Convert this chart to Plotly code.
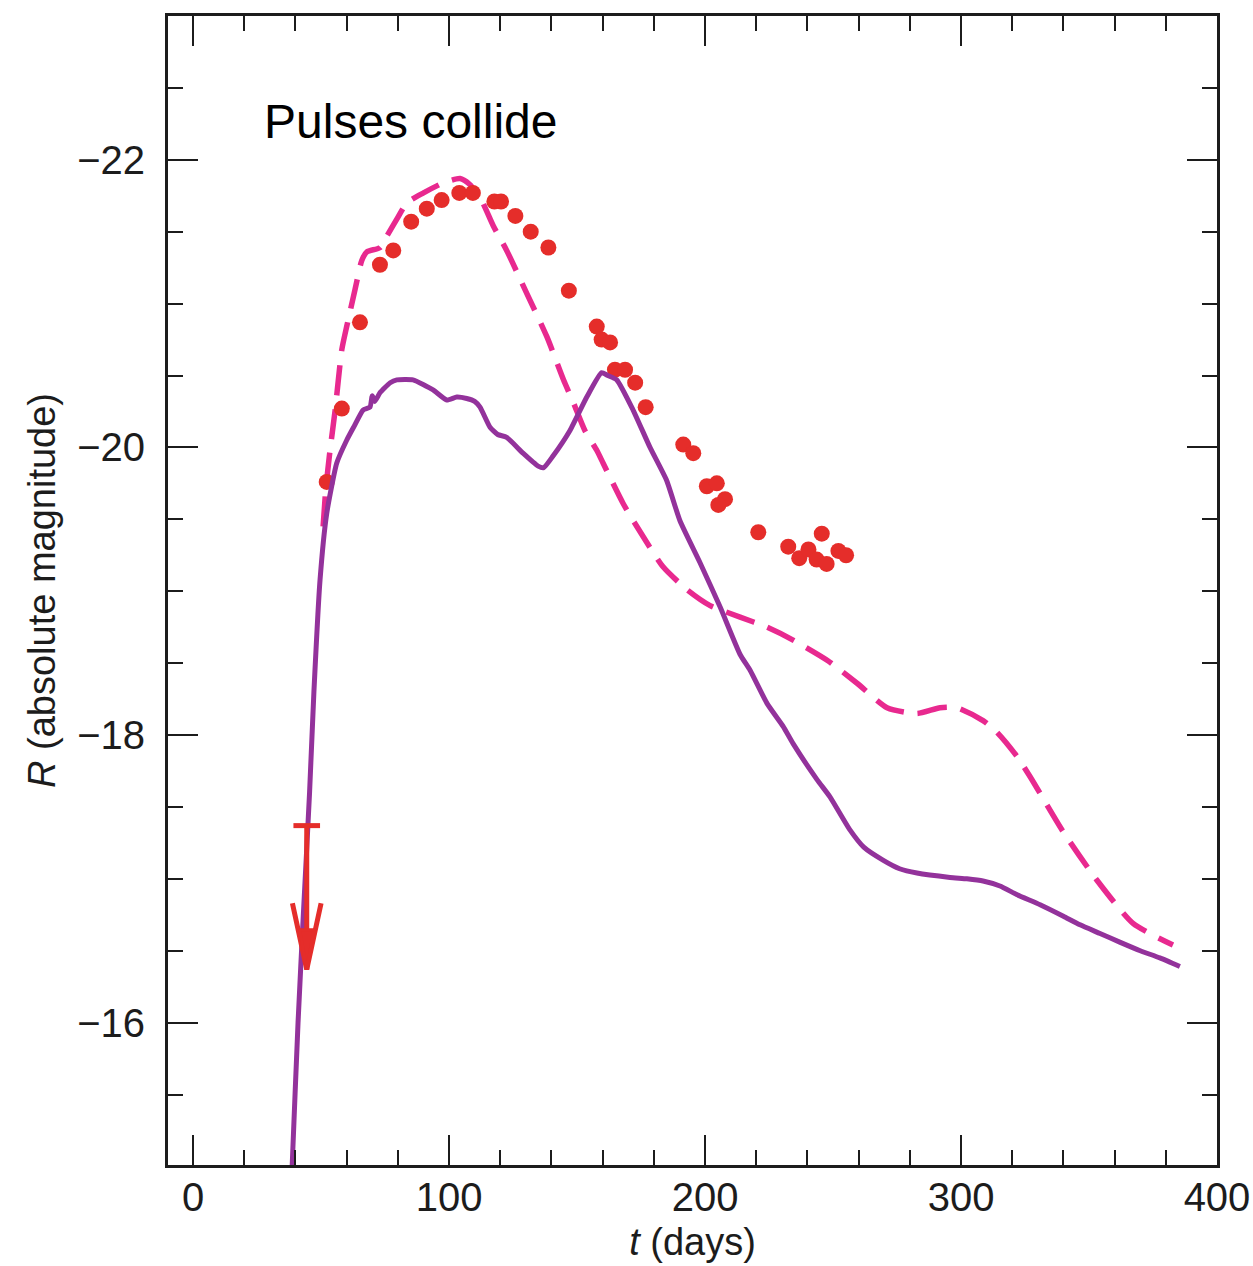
import plotly.graph_objects as go

# ---------------- data ----------------
# observed R-band points (days, absolute magnitude)
obs_t = [52.2, 58.1, 65.2, 73.0, 78.2, 85.2, 91.3, 97.1, 104.0, 109.3,
         117.7, 120.3, 125.9, 131.9, 138.8, 146.8, 157.7, 159.6, 162.9, 164.8,
         168.75, 172.7, 176.8, 191.5, 195.4, 200.7, 204.6, 207.8, 205.2, 220.8,
         232.5, 236.8, 240.4, 245.6, 243.6, 247.5, 252.1, 255.1]
obs_R = [-19.76, -20.27, -20.87, -21.27, -21.37, -21.57, -21.66, -21.72, -21.77, -21.77,
         -21.71, -21.71, -21.61, -21.50, -21.39, -21.09, -20.84, -20.75, -20.73, -20.54,
         -20.54, -20.45, -20.28, -20.02, -19.96, -19.73, -19.75, -19.64, -19.60, -19.41,
         -19.31, -19.23, -19.29, -19.40, -19.22, -19.19, -19.28, -19.25]

# upper limit
ulim_t = [44.4]
ulim_R = [-17.37]

# model 1 (solid purple)
solid_t = [38.3, 38.7, 41.0, 43.1, 45.5, 47.2, 49.6, 52.2, 56.1, 60.0,
           63.0, 66.4, 69.1, 70.0, 71.0, 73.0, 77.0, 79.6, 85.9, 93.75,
           99.1, 103.0, 106.9, 110.0, 112.1, 116.0, 119.0, 122.5, 128.9, 134.8,
           137.0, 140.6, 147.3, 153.8, 159.6, 162.0, 165.5, 171.9, 178.5, 185.0,
           190.2, 198.0, 205.9, 213.7, 217.6, 224.2, 230.5, 234.4, 243.75, 248.8,
           256.6, 262.0, 269.5, 276.0, 282.8, 295.7, 302.3, 308.6, 315.2, 321.9,
           330.9, 340.0, 346.5, 354.3, 362.0, 370.0, 377.7, 385.5]
solid_R = [-14.8, -15.0, -16.0, -16.76, -17.6, -18.3, -19.08, -19.54, -19.89, -20.05,
           -20.15, -20.26, -20.28, -20.36, -20.32, -20.38, -20.45, -20.47, -20.47, -20.40,
           -20.33, -20.35, -20.34, -20.32, -20.28, -20.14, -20.09, -20.07, -19.96, -19.87,
           -19.86, -19.94, -20.12, -20.35, -20.52, -20.50, -20.47, -20.26, -20.00, -19.77,
           -19.49, -19.20, -18.89, -18.56, -18.45, -18.22, -18.06, -17.94, -17.69, -17.57,
           -17.34, -17.22, -17.13, -17.07, -17.04, -17.01, -17.00, -16.985, -16.95, -16.89,
           -16.82, -16.74, -16.68, -16.62, -16.56, -16.50, -16.45, -16.39]

# model 2 (dashed magenta)
dash_t = [50.8, 51.8, 53.5, 55.5, 58.1, 60.0, 63.3, 65.9, 67.9, 73.0,
          75.7, 80.0, 83.5, 90.0, 97.8, 104.3, 108.0, 112.1, 117.3, 122.5,
          130.4, 138.2, 144.7, 148.6, 153.0, 157.7, 160.2, 168.0, 175.8, 183.6,
          193.0, 202.0, 213.7, 224.2, 234.4, 247.7, 259.4, 271.1, 282.8, 291.8,
          298.4, 308.6, 314.0, 321.9, 327.0, 339.8, 353.1, 367.2, 382.8]
dash_R = [-19.45, -19.7, -19.98, -20.26, -20.68, -20.84, -21.10, -21.30, -21.36, -21.39,
          -21.47, -21.60, -21.70, -21.77, -21.84, -21.87, -21.83, -21.74, -21.54, -21.37,
          -21.07, -20.77, -20.47, -20.31, -20.12, -19.98, -19.89, -19.61, -19.38, -19.17,
          -19.01, -18.90, -18.82, -18.75, -18.66, -18.52, -18.36, -18.19, -18.15, -18.19,
          -18.19, -18.10, -18.02, -17.85, -17.71, -17.33, -16.99, -16.69, -16.54]

x_ticks = [0, 100, 200, 300, 400]
y_ticks = [-22, -20, -18, -16]

# ---------------- styles ----------------
RED = "#e52d2a"
PURPLE = "#93329b"
PINK = "#e8298f"
INK = "#1c1c1c"
FONT = "Liberation Sans, Arial, Helvetica, sans-serif"

fig = go.Figure()

fig.add_trace(go.Scatter(x=dash_t, y=dash_R, mode="lines",
                         line=dict(color=PINK, width=5.5, dash="30px,14px",
                                   shape="spline", smoothing=0.6),
                         hoverinfo="skip", showlegend=False))
fig.add_trace(go.Scatter(x=obs_t, y=obs_R, mode="markers",
                         marker=dict(color=RED, size=16, line=dict(width=0)),
                         showlegend=False))
fig.add_trace(go.Scatter(x=solid_t, y=solid_R, mode="lines",
                         line=dict(color=PURPLE, width=5, shape="spline", smoothing=0.5),
                         hoverinfo="skip", showlegend=False))

# upper-limit glyph (cap bar + downward arrow) built from the limit point
cap_half = 5.2      # days
arrow_len = 1.0     # mag
head_len = 0.46     # mag
head_half = 5.6     # days
for t0, r0 in zip(ulim_t, ulim_R):
    tip = r0 + arrow_len
    fig.add_trace(go.Scatter(
        x=[t0 - cap_half, t0 + cap_half, None, t0, t0, None,
           t0 - head_half, t0, t0 + head_half],
        y=[r0, r0, None, r0, tip, None, tip - head_len, tip, tip - head_len],
        mode="lines", line=dict(color=RED, width=5),
        hoverinfo="skip", showlegend=False))
    fig.add_trace(go.Scatter(
        x=[t0 - head_half * 0.5, t0, t0 + head_half * 0.5, t0 - head_half * 0.5],
        y=[tip - head_len * 0.6, tip, tip - head_len * 0.6, tip - head_len * 0.6],
        mode="lines", fill="toself", fillcolor=RED, line=dict(color=RED, width=3),
        hoverinfo="skip", showlegend=False))

axis_common = dict(
    automargin=False, ticklabeloverflow="allow",
    showgrid=False, zeroline=False,
    showline=True, linecolor=INK, linewidth=3, mirror="ticks",
    ticks="inside", ticklen=30, tickwidth=2, tickcolor=INK,
    tickfont=dict(family=FONT, size=40, color=INK),
)

fig.update_xaxes(
    range=[-9.8, 400], tickvals=x_ticks, ticktext=[str(v) for v in x_ticks],
    minor=dict(dtick=20, tick0=0, ticks="inside", ticklen=15, tickwidth=2, tickcolor=INK),
    title=dict(text="<i>t</i> (days)", font=dict(family=FONT, size=38, color=INK), standoff=11),
    ticklabelstandoff=-5,
    **axis_common,
)
fig.update_yaxes(
    range=[-15.01, -23.0], tickvals=y_ticks,
    minor=dict(dtick=0.5, tick0=-16, ticks="inside", ticklen=15, tickwidth=2, tickcolor=INK),
    title=dict(text="<i>R</i> (absolute magnitude)", font=dict(family=FONT, size=38, color=INK), standoff=10),
    ticklabelstandoff=12,
    **axis_common,
)

fig.add_annotation(text="Pulses collide", xref="paper", yref="paper",
                   x=0.09, y=0.908, xanchor="left", yanchor="middle",
                   showarrow=False, font=dict(family=FONT, size=48, color="#000000"))

fig.update_layout(
    width=1253, height=1266,
    margin=dict(l=168, r=36, t=16, b=101),
    paper_bgcolor="white", plot_bgcolor="white",
    showlegend=False,
)

fig.write_html("out.html")
